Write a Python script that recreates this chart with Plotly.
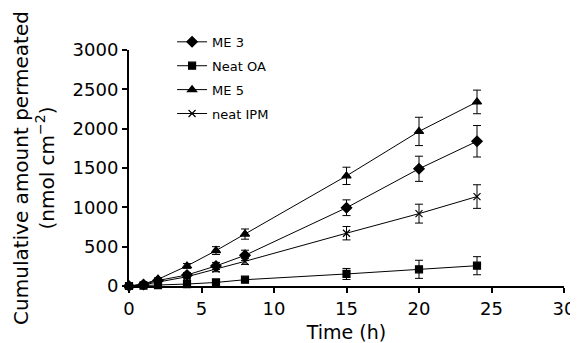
import plotly.graph_objects as go

time_h = [0, 1, 2, 4, 6, 8, 15, 20, 24]

me3 = [0, 20, 70, 140, 255, 390, 995, 1490, 1840]
me3_err = [0, 10, 15, 30, 45, 65, 100, 160, 200]

neat_oa = [0, 5, 10, 25, 45, 80, 153, 212, 258]
neat_oa_err = [0, 5, 8, 15, 20, 25, 70, 115, 115]

me5 = [0, 25, 85, 255, 450, 660, 1400, 1965, 2340]
me5_err = [0, 10, 20, 30, 50, 65, 110, 180, 150]

neat_ipm = [0, 15, 50, 118, 216, 314, 671, 920, 1137]
neat_ipm_err = [0, 8, 15, 25, 35, 40, 85, 120, 150]

series = [
    ("ME 3", me3, me3_err, "diamond", 8),
    ("Neat OA", neat_oa, neat_oa_err, "square", 7),
    ("ME 5", me5, me5_err, "triangle-up", 8),
    ("neat IPM", neat_ipm, neat_ipm_err, "x-thin", 7),
]

FONT = "DejaVu Sans"
fig = go.Figure()
for i, (name, y, err, sym, sz) in enumerate(series):
    fig.add_trace(go.Scatter(
        x=time_h, y=y, name=name, mode="lines+markers",
        legendgroup=name,
        line=dict(color="black", width=1),
        marker=dict(symbol=sym, size=sz, color="black",
                    line=dict(color="black", width=1.2)),
        error_y=dict(type="data", array=err, visible=True,
                     color="black", thickness=1, width=4),
        cliponaxis=False,
    ))

# the page body adds an 8px offset; figure is sized to compensate
fig.update_layout(
    width=570, height=335,
    margin=dict(l=121, r=14, t=42, b=57),
    paper_bgcolor="white", plot_bgcolor="white",
    font=dict(family=FONT, color="black"),
    showlegend=True,
    legend=dict(x=0.099, y=1.098, xanchor="left", yanchor="top",
                bgcolor="rgba(0,0,0,0)", font=dict(size=13, family=FONT),
                traceorder="grouped", tracegroupgap=4, itemwidth=30),
    xaxis=dict(range=[0, 30], tickvals=[0, 5, 10, 15, 20, 25, 30],
               showgrid=False, zeroline=False, showline=True,
               linecolor="black", linewidth=2, ticks="outside",
               ticklen=5, tickwidth=2, tickcolor="black",
               tickfont=dict(size=18, family=FONT), automargin=False,
               title=dict(text="Time (h)", font=dict(size=19, family=FONT), standoff=8)),
    yaxis=dict(range=[0, 3000], tickvals=[0, 500, 1000, 1500, 2000, 2500, 3000],
               showgrid=False, zeroline=False, showline=True,
               linecolor="black", linewidth=2, ticks="outside",
               ticklen=5, tickwidth=2, tickcolor="black",
               tickfont=dict(size=18, family=FONT), automargin=False,
               title=dict(text="Cumulative amount permeated<br>(nmol cm<sup>−2</sup>)",
                          font=dict(size=20, family=FONT), standoff=13)),
)

fig.write_html("out.html")
